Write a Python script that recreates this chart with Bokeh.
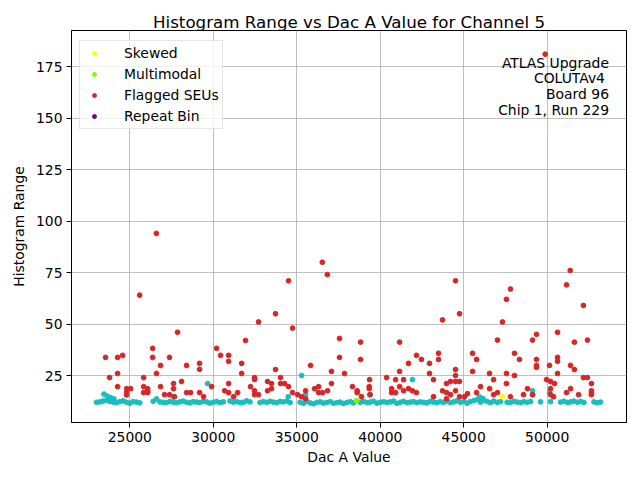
from bokeh.plotting import figure
from bokeh.models import Range1d, FixedTicker, Legend, LegendItem, Label, ColumnDataSource
from bokeh.embed import file_html
from bokeh.resources import INLINE

# ---------------- data ----------------
normal_dac = [
    23000, 23200, 23400, 23600, 23800, 24000, 24200, 24400, 24600, 24800, 25000, 25200, 25400, 25600,
    26400, 26600, 26800, 27000, 27200, 27400, 27600, 27800, 28000, 28200, 28400, 28600, 28800, 29000,
    29200, 29400, 29600, 29800, 30000, 30200, 30400, 30600,
    31000, 31200, 31400, 31600, 31800, 32000, 32200,
    32800, 33000, 33200, 33400, 33600, 33800, 34000, 34200, 34400, 34600,
    35200, 35400, 35600, 35800, 36000, 36200, 36400, 36600, 36800, 37000, 37200, 37400, 37600, 37800,
    38000, 38200, 38400,
    38800, 39000, 39200, 39400, 39600, 39800, 40000, 40200, 40400, 40600, 40800, 41000, 41200, 41400,
    41600, 41800, 42000, 42200, 42400, 42600, 42800, 43000, 43200, 43400, 43600, 43800, 44000, 44200,
    44400, 44600, 44800, 45000, 45200, 45400, 45600, 45800, 46000, 46200, 46400, 46600, 46800, 47000,
    47200, 47600, 47800, 48000, 48200, 48400, 48600, 48800, 49000,
    49600, 50200, 50800, 51000, 51200, 51400, 51600, 51800, 52000, 52200, 52800, 53000, 53200,
    23450, 23650, 23850, 24050, 27620, 29660, 34490, 35290, 35530, 39360, 41930, 45950, 46150,
    49120, 49130, 50140,
]
normal_range = [
    12.0, 12.2, 12.6, 12.9, 12.4, 12.1, 11.8, 12.3, 12.7, 12.0, 11.6, 12.3, 12.1, 11.7,
    12.5, 13.7, 12.2, 12.0, 11.9, 12.4, 12.1, 11.8, 12.2, 12.6, 12.0, 11.7, 12.3, 12.1,
    11.9, 12.5, 12.2, 11.6, 12.0, 12.4, 11.8, 12.2,
    12.6, 12.1, 12.3, 11.9, 12.0, 12.7, 12.2,
    11.9, 12.3, 12.0, 12.5, 12.1, 11.8, 12.4, 12.2, 12.6, 11.9,
    12.0, 11.5, 12.4, 11.7, 11.3, 11.9, 12.2, 11.6, 11.9, 12.3, 11.5, 11.8, 12.1, 11.4,
    11.9, 12.3, 11.7,
    12.0, 12.4, 11.8, 12.1, 12.5, 11.6, 12.0, 12.3, 11.9, 12.2, 12.6, 11.5, 12.0, 12.4,
    11.8, 12.1, 12.3, 11.9, 12.2, 12.0, 11.7, 12.4, 12.1, 11.8, 12.3, 12.0, 12.6, 11.9,
    12.2, 12.7, 12.0, 12.4, 11.6, 12.3, 12.8, 13.3, 12.1, 12.9, 12.4, 11.8, 12.6, 12.0,
    12.3, 12.0, 11.9, 12.5, 12.1, 11.8, 12.3, 12.0, 12.4,
    12.2, 12.3, 12.1, 12.5, 11.9, 12.2, 12.6, 12.0, 12.4, 11.9, 12.2, 11.8, 12.1,
    16.0, 15.0, 14.3, 13.6, 14.7, 21.1, 14.7, 25.0, 15.7, 15.7, 23.0, 14.6, 13.8,
    17.6, 15.7, 16.7,
]

flagged_dac = [
    23550, 24270, 24570, 26370, 26370, 27380, 26840, 29180, 29180, 28400, 30200, 30440, 23790, 24270,
    24270, 24810, 25050, 24810, 24810, 25830, 26600, 25830, 26070, 26070, 26070, 25830, 26840, 27620,
    27620, 28100, 27080, 27380, 27680, 28400, 28640, 29180, 29420, 29900, 30680, 25590, 27860, 26590,
    30920, 30920, 31700, 37560, 35830, 33730, 31700, 37080, 37860, 32470, 32470, 34030, 30920, 33250,
    33490, 34030, 34270, 34510, 32230, 33490, 33250, 32470, 30920, 31460, 32470, 32710, 31220, 34750,
    35050, 35290, 35530, 35530, 36070, 36310, 36310, 36550, 36850, 37080, 38340, 38820, 38820, 34510,
    33730, 32710, 34750, 31930, 37560, 36530, 36830,
    44510, 44750, 43730, 41160, 42170, 42470, 41690, 42950, 43490, 43490, 45530, 45770, 41160, 42950,
    44510, 44510, 45530, 46550, 39360, 40380, 40920, 41400, 43190, 44510, 44750, 44210, 43970, 46790,
    41160, 41690, 40680, 41400, 41930, 42170, 39340, 39340, 38620, 38620, 40680, 40920, 39400, 38880,
    43190, 43730, 43970, 44510, 44210, 43970, 44750, 45050, 45230, 45770, 46010, 46550, 46790,
    51160, 47800, 47560, 52170, 47320, 49360, 49120, 50620, 51630, 52410, 47020, 48040, 48340, 49360,
    49360, 49360, 50620, 50620, 50140, 51400, 51630, 50620, 47560, 48040, 47560, 49960, 50200, 50440,
    52170, 52410, 52650, 48820, 50200, 51400, 52650, 52650, 52650, 47020, 48580, 49120, 50200, 51160,
    51880, 47800, 50380, 51380, 49880,
]
flagged_range = [
    33.8, 33.8, 34.8, 38.2, 33.8, 33.8, 29.9, 30.9, 28.0, 29.9, 38.2, 34.8, 24.0, 26.0,
    19.6, 18.6, 18.6, 16.7, 15.6, 24.0, 26.0, 19.6, 18.6, 17.6, 16.7, 16.7, 19.6, 21.1,
    18.6, 22.1, 15.7, 15.7, 14.7, 16.7, 16.7, 16.7, 14.7, 19.6, 17.6, 64.0, 46.0, 94.0,
    34.8, 31.9, 30.9, 33.8, 29.9, 27.9, 26.0, 27.0, 26.0, 24.0, 23.1, 24.0, 21.1, 22.1,
    21.1, 21.1, 21.1, 19.6, 19.6, 18.6, 17.6, 17.6, 16.7, 16.7, 15.7, 15.7, 14.7, 16.7,
    15.7, 14.7, 17.6, 13.7, 18.6, 19.6, 16.7, 16.7, 17.6, 21.1, 19.6, 41.2, 32.8, 71.0,
    55.0, 51.0, 48.0, 42.0, 43.0, 80.0, 74.0,
    71.0, 55.0, 52.0, 41.2, 34.8, 32.8, 30.9, 30.9, 35.8, 32.8, 35.8, 32.8, 27.0, 26.0,
    27.9, 25.0, 27.0, 26.0, 23.0, 24.0, 23.0, 23.0, 23.0, 22.1, 22.1, 22.1, 21.1, 23.0,
    19.6, 18.6, 18.6, 17.6, 17.6, 16.7, 19.6, 18.6, 17.6, 16.7, 16.7, 16.7, 15.7, 14.7,
    14.7, 17.6, 16.7, 17.6, 15.7, 13.7, 14.7, 14.7, 16.2, 16.7, 19.6, 18.6, 15.7,
    69.0, 67.0, 62.0, 59.0, 51.0, 45.0, 42.2, 46.0, 41.2, 42.2, 42.2, 35.8, 32.8, 32.8,
    29.9, 29.0, 33.8, 31.9, 29.9, 29.9, 27.9, 26.0, 26.0, 25.0, 21.1, 23.0, 22.1, 21.1,
    24.0, 24.0, 21.1, 18.6, 18.6, 18.6, 17.6, 16.7, 15.7, 16.7, 15.7, 15.7, 15.7, 16.7,
    15.7, 14.7, 14.7, 76.0, 181.0,
]

skewed_dac = [47320]
skewed_range = [14.7]
multimodal_dac = [38580]
multimodal_range = [12.8]
# "Repeat Bin" has no visible points; a single NaN keeps its legend swatch
repeat_dac = [float("nan")]
repeat_range = [float("nan")]

x_ticks = [25000, 30000, 35000, 40000, 45000, 50000]
y_ticks = [25, 50, 75, 100, 125, 150, 175]
info_lines = ["ATLAS Upgrade", "COLUTAv4", "Board 96", "Chip 1, Run 229"]

FONT = "DejaVu Sans"

# ---------------- figure ----------------
p = figure(
    frame_width=555, frame_height=392,
    output_backend="svg", toolbar_location=None,
    x_range=Range1d(21508, 54750), y_range=Range1d(2.2, 192.5),
    min_border_left=71, min_border_right=14, min_border_top=30, min_border_bottom=50,
    title="Histogram Range vs Dac A Value for Channel 5",
)
p.background_fill_color = "white"
p.border_fill_color = "white"
p.outline_line_color = "black"
p.outline_line_width = 1
p.outline_line_alpha = 1

p.title.text_font = FONT
p.title.text_font_size = "16.7px"
p.title.text_font_style = "normal"
p.title.text_color = "black"
p.title.align = "center"
p.title.standoff = -2

p.xaxis.ticker = FixedTicker(ticks=x_ticks)
p.yaxis.ticker = FixedTicker(ticks=y_ticks)
p.xaxis.axis_label = "Dac A Value"
p.yaxis.axis_label = "Histogram Range"
for ax in (p.xaxis[0], p.yaxis[0]):
    ax.major_label_text_font = FONT
    ax.major_label_text_font_size = "13.9px"
    ax.major_label_text_color = "black"
    ax.axis_label_text_font = FONT
    ax.axis_label_text_font_size = "13.9px"
    ax.axis_label_text_font_style = "normal"
    ax.axis_label_text_color = "black"
    ax.major_tick_out = 5
    ax.major_tick_in = 0
    ax.minor_tick_out = 0
    ax.minor_tick_in = 0
    ax.axis_line_color = "black"
    ax.major_tick_line_color = "black"
    ax.major_label_standoff = 4
p.xaxis.axis_label_standoff = 4
p.yaxis.axis_label_standoff = 6

for g in (p.xgrid[0], p.ygrid[0]):
    g.grid_line_color = "#b0b0b0"
    g.grid_line_width = 0.8
p.xgrid.ticker = FixedTicker(ticks=x_ticks)
p.ygrid.ticker = FixedTicker(ticks=y_ticks)

SIZE = 4.8
src_norm = ColumnDataSource(dict(x=normal_dac, y=normal_range))
src_flag = ColumnDataSource(dict(x=flagged_dac, y=flagged_range))
src_skew = ColumnDataSource(dict(x=skewed_dac, y=skewed_range))
src_multi = ColumnDataSource(dict(x=multimodal_dac, y=multimodal_range))
src_rep = ColumnDataSource(dict(x=repeat_dac, y=repeat_range))

p.scatter("x", "y", source=src_norm, size=SIZE, fill_color="#17bfbf", line_color="#17bfbf")
r_flag = p.scatter("x", "y", source=src_flag, size=SIZE, fill_color="#d62728", line_color="#d62728")
r_skew = p.scatter("x", "y", source=src_skew, size=SIZE, fill_color="#ffff00", line_color="#ffff00")
r_multi = p.scatter("x", "y", source=src_multi, size=SIZE, fill_color="#7cfc00", line_color="#7cfc00")
r_rep = p.scatter("x", "y", source=src_rep, size=SIZE, fill_color="#800080", line_color="#800080")

legend = Legend(items=[
    LegendItem(label="Skewed", renderers=[r_skew]),
    LegendItem(label="Multimodal", renderers=[r_multi]),
    LegendItem(label="Flagged SEUs", renderers=[r_flag]),
    LegendItem(label="Repeat Bin", renderers=[r_rep]),
], location=(8, 293))
legend.padding = 3
legend.spacing = 3
legend.glyph_width = 22
legend.glyph_height = 10
legend.label_height = 18
legend.label_standoff = 19
legend.label_text_font = FONT
legend.label_text_font_size = "13.9px"
legend.label_text_color = "black"
legend.border_line_color = "#cccccc"
legend.border_line_width = 1
legend.background_fill_alpha = 0.8
p.add_layout(legend)

label_x = [53700, 53460, 53700, 53700]
label_y = [176.9, 169.3, 161.7, 154.1]
for txt, lx, ly in zip(info_lines, label_x, label_y):
    p.add_layout(Label(x=lx, y=ly, text=txt, text_align="right", text_baseline="middle",
                       text_font=FONT, text_font_size="13.9px", text_color="black"))

open("out.html", "w").write(file_html(p, INLINE))
